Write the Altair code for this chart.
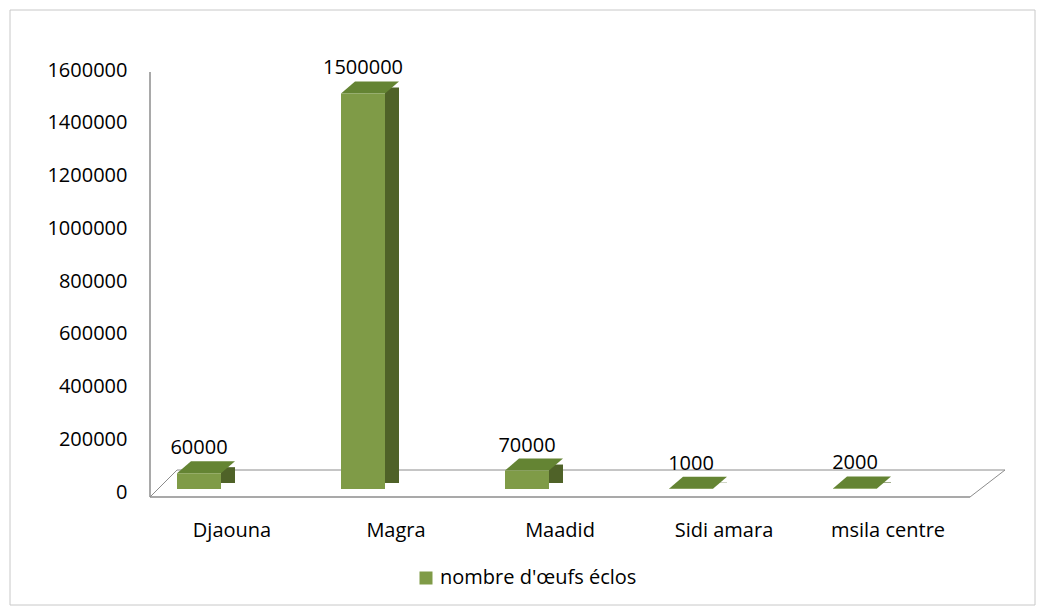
import altair as alt
import pandas as pd

categories = ["Djaouna", "Magra", "Maadid", "Sidi amara", "msila centre"]
values = [60000, 1500000, 70000, 1000, 2000]
series_name = "nombre d'œufs éclos"
y_ticks = [0, 200000, 400000, 600000, 800000, 1000000, 1200000, 1400000, 1600000]

df = pd.DataFrame({"site": categories, "value": values, "serie": [series_name] * len(categories)})
one = pd.DataFrame({"k": [0]})

W, H = 820, 422
FONT = "Open Sans"
FRONT = "#7f9b47"
SIDE = "#4f6228"
TOP = "#648433"
LINE = "#8c8c8c"
TOP_PATH = "M -1 0.2069 L 0.5172 0.2069 L 1 -0.2069 L -0.5172 -0.2069 Z"

x_enc = alt.X("site:N", sort=categories,
              scale=alt.Scale(paddingInner=0, paddingOuter=0),
              axis=alt.Axis(title=None, labelAngle=0, domain=False, ticks=False,
                            labelPadding=28, labelFontSize=20, labelColor="#000",
                            labelFont=FONT))
y_enc = alt.Y("value:Q", scale=alt.Scale(domain=[0, 1600000], nice=False),
              axis=alt.Axis(title=None, values=y_ticks, format="d", grid=False,
                            domain=False, ticks=False, labelPadding=23,
                            labelFontSize=20, labelColor="#000", labelFont=FONT))

base = alt.Chart(df)

border = alt.Chart(one).mark_rect(fillOpacity=0, stroke="#c8c8c8", strokeWidth=1).encode(
    x=alt.value(-140), x2=alt.value(885), y=alt.value(-60), y2=alt.value(535))

axis_line = alt.Chart(one).mark_rule(color=LINE, strokeWidth=1.5).encode(
    x=alt.value(0), y=alt.value(2), y2=alt.value(427))
floor_front = alt.Chart(one).mark_rule(color=LINE, strokeWidth=1.5).encode(
    x=alt.value(0), x2=alt.value(820), y=alt.value(427))
floor_back = alt.Chart(one).mark_rule(color=LINE, strokeWidth=1).encode(
    x=alt.value(27), x2=alt.value(855), y=alt.value(400))
floor_left = alt.Chart(one).mark_rule(color=LINE, strokeWidth=1).encode(
    x=alt.value(0), x2=alt.value(27), y=alt.value(427), y2=alt.value(400))
floor_right = alt.Chart(one).mark_rule(color=LINE, strokeWidth=1).encode(
    x=alt.value(820), x2=alt.value(855), y=alt.value(427), y2=alt.value(400))

side = base.mark_bar(size=14, xOffset=-4, yOffset=-9, y2Offset=-9, color=SIDE).encode(
    x=x_enc, y=y_enc)
top = base.mark_point(shape=TOP_PATH, size=3364, filled=True, opacity=1, strokeWidth=0,
                      color=TOP, xOffset=-26, yOffset=-9).encode(
    x=x_enc, y=y_enc)
front = base.mark_bar(size=44, xOffset=-33, yOffset=-3, y2Offset=-3).encode(
    x=x_enc, y=y_enc,
    color=alt.Color("serie:N", scale=alt.Scale(range=[FRONT]),
                    legend=alt.Legend(title=None, orient="none", legendX=266, legendY=498,
                                      symbolType="square", symbolSize=169,
                                      symbolStrokeWidth=0, labelFontSize=20,
                                      labelFont=FONT, labelColor="#000", padding=0,
                                      labelLimit=0)))
labels = base.mark_text(dx=-33, dy=-22, baseline="alphabetic", align="center",
                        fontSize=20, font=FONT, color="#000").encode(
    x=x_enc, y=y_enc, text=alt.Text("value:Q", format="d"))

chart = alt.layer(border, floor_back, floor_left, floor_right, side, top, front,
                  floor_front, axis_line, labels).properties(
    width=W, height=H,
    autosize=alt.AutoSizeParams(type="none"),
    padding={"left": 150, "top": 70, "right": 75, "bottom": 120},
).configure(font=FONT, background="white").configure_view(strokeWidth=0, stroke="transparent")

chart.save("out.html", embed_options={"renderer": "svg", "actions": False})
